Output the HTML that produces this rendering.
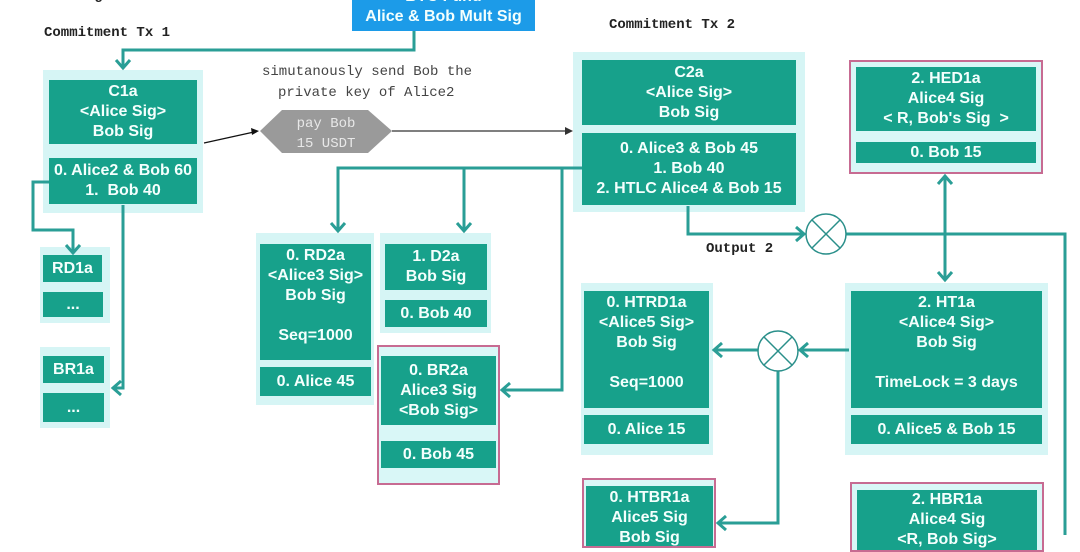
<!DOCTYPE html>
<html><head><meta charset="utf-8"><style>
html,body{margin:0;padding:0;background:#fff;}
body{width:1080px;height:535px;position:relative;overflow:hidden;font-family:"Liberation Sans",Arial,sans-serif;}
.o{position:absolute;background:#d6f5f5;}
.b{position:absolute;background:#17a18b;color:#f4fffd;font-weight:bold;font-size:16px;line-height:20px;text-align:center;display:flex;flex-direction:column;justify-content:center;}
.pk{position:absolute;border:2px solid #c76b92;background:#d9f7f7;box-sizing:border-box;}
.m{position:absolute;font-family:"Liberation Mono","DejaVu Sans Mono",monospace;font-size:14px;color:#222;white-space:nowrap;}
svg{position:absolute;left:0;top:0;}
</style></head><body>
<div class="m" style="left:44px;top:-12px;font-weight:bold;">Funding Transaction</div>
<div class="m" style="left:44px;top:25px;font-weight:bold;">Commitment Tx 1</div>
<div class="m" style="left:609px;top:17px;font-weight:bold;">Commitment Tx 2</div>
<div class="m" style="left:262px;top:64px;color:#444;">simutanously send Bob the</div>
<div class="m" style="left:278px;top:85px;color:#444;">private key of Alice2</div>
<div class="m" style="left:706px;top:241px;font-weight:bold;">Output 2</div>

<div class="b" style="left:352px;top:-12px;width:183px;height:43px;background:#1c9be8;justify-content:flex-end;padding-bottom:0;"><div>BTC Fund</div><div style="margin-bottom:4px">Alice &amp; Bob Mult Sig</div></div>

<!-- C1a -->
<div class="o" style="left:43px;top:70px;width:160px;height:143px;"></div>
<div class="b" style="left:49px;top:80px;width:148px;height:64px;">C1a<br>&lt;Alice Sig&gt;<br>Bob Sig</div>
<div class="b" style="left:49px;top:158px;width:148px;height:46px;">0. Alice2 &amp; Bob 60<br>1.&nbsp; Bob 40</div>

<!-- RD1a / BR1a -->
<div class="o" style="left:40px;top:247px;width:70px;height:76px;"></div>
<div class="b" style="left:43px;top:255px;width:59px;height:27px;">RD1a</div>
<div class="b" style="left:43px;top:292px;width:60px;height:25px;">...</div>
<div class="o" style="left:40px;top:347px;width:70px;height:81px;"></div>
<div class="b" style="left:43px;top:356px;width:61px;height:27px;">BR1a</div>
<div class="b" style="left:43px;top:393px;width:61px;height:29px;">...</div>

<!-- C2a -->
<div class="o" style="left:573px;top:52px;width:232px;height:160px;"></div>
<div class="b" style="left:582px;top:60px;width:214px;height:65px;">C2a<br>&lt;Alice Sig&gt;<br>Bob Sig</div>
<div class="b" style="left:582px;top:133px;width:214px;height:72px;">0. Alice3 &amp; Bob 45<br>1. Bob 40<br>2. HTLC Alice4 &amp; Bob 15</div>

<!-- HED1a -->
<div class="pk" style="left:849px;top:60px;width:194px;height:114px;"></div>
<div class="b" style="left:856px;top:67px;width:180px;height:64px;">2. HED1a<br>Alice4 Sig<br>&lt; R, Bob's Sig &nbsp;&gt;</div>
<div class="b" style="left:856px;top:142px;width:180px;height:21px;">0. Bob 15</div>

<!-- RD2a -->
<div class="o" style="left:256px;top:233px;width:118px;height:172px;"></div>
<div class="b" style="left:260px;top:244px;width:111px;height:116px;justify-content:flex-start;padding-top:2px;box-sizing:border-box;">0. RD2a<br>&lt;Alice3 Sig&gt;<br>Bob Sig<br><br>Seq=1000</div>
<div class="b" style="left:260px;top:367px;width:111px;height:29px;">0. Alice 45</div>

<!-- D2a -->
<div class="o" style="left:380px;top:233px;width:111px;height:100px;"></div>
<div class="b" style="left:385px;top:244px;width:102px;height:46px;">1. D2a<br>Bob Sig</div>
<div class="b" style="left:385px;top:300px;width:102px;height:27px;">0. Bob 40</div>

<!-- BR2a -->
<div class="pk" style="left:377px;top:345px;width:123px;height:140px;"></div>
<div class="b" style="left:381px;top:356px;width:115px;height:69px;">0. BR2a<br>Alice3 Sig<br>&lt;Bob Sig&gt;</div>
<div class="b" style="left:381px;top:441px;width:115px;height:27px;">0. Bob 45</div>

<!-- HTRD1a -->
<div class="o" style="left:581px;top:283px;width:132px;height:172px;"></div>
<div class="b" style="left:584px;top:291px;width:125px;height:117px;justify-content:flex-start;padding-top:2px;box-sizing:border-box;">0. HTRD1a<br>&lt;Alice5 Sig&gt;<br>Bob Sig<br><br>Seq=1000</div>
<div class="b" style="left:584px;top:415px;width:125px;height:29px;">0. Alice 15</div>

<!-- HT1a -->
<div class="o" style="left:845px;top:283px;width:203px;height:172px;"></div>
<div class="b" style="left:851px;top:291px;width:191px;height:117px;justify-content:flex-start;padding-top:2px;box-sizing:border-box;">2. HT1a<br>&lt;Alice4 Sig&gt;<br>Bob Sig<br><br>TimeLock = 3 days</div>
<div class="b" style="left:851px;top:415px;width:191px;height:29px;">0. Alice5 &amp; Bob 15</div>

<!-- HTBR1a -->
<div class="pk" style="left:582px;top:478px;width:134px;height:70px;"></div>
<div class="b" style="left:586px;top:486px;width:127px;height:60px;justify-content:flex-start;padding-top:2px;box-sizing:border-box;">0. HTBR1a<br>Alice5 Sig<br>Bob Sig</div>

<!-- HBR1a -->
<div class="pk" style="left:850px;top:482px;width:194px;height:70px;"></div>
<div class="b" style="left:857px;top:490px;width:180px;height:60px;justify-content:flex-start;padding-top:0;box-sizing:border-box;">2. HBR1a<br>Alice4 Sig<br>&lt;R, Bob Sig&gt;</div>

<svg width="1080" height="535" viewBox="0 0 1080 535">
<g fill="none" stroke="#2a9e96" stroke-width="3">
<polyline points="414,31 414,50 123,50 123,68"/>
<polyline points="116,60 123,68 130,60"/>
<polyline points="49,182 33,182 33,230 73,230 73,253"/>
<polyline points="66,245 73,253 80,245"/>
<polyline points="123,205 123,388 114,388"/>
<polyline points="121,381 113,388 121,395"/>
<polyline points="582,168 338,168 338,231"/>
<polyline points="331,223 338,231 345,223"/>
<polyline points="464,168 464,231"/>
<polyline points="457,223 464,231 471,223"/>
<polyline points="562,168 562,390 502,390"/>
<polyline points="510,383 502,390 510,397"/>
<polyline points="688,206 688,234 804,234"/>
<polyline points="796,227 804,234 796,241"/>
<polyline points="846,234 1065,234 1065,535"/>
<line x1="945" y1="176" x2="945" y2="280"/>
<polyline points="938,184 945,176 952,184"/>
<polyline points="938,272 945,280 952,272"/>
<line x1="849" y1="350" x2="800" y2="350"/>
<polyline points="808,343 800,350 808,357"/>
<line x1="758" y1="350" x2="714" y2="350"/>
<polyline points="722,343 714,350 722,357"/>
<polyline points="778,371 778,523 718,523"/>
<polyline points="726,516 718,523 726,530"/>
</g>
<g fill="none" stroke="#2a8f8a" stroke-width="1.5">
<circle cx="826" cy="234" r="20"/>
<line x1="812" y1="220" x2="840" y2="248"/><line x1="840" y1="220" x2="812" y2="248"/>
<circle cx="778" cy="351" r="20"/>
<line x1="764" y1="337" x2="792" y2="365"/><line x1="792" y1="337" x2="764" y2="365"/>
</g>
<line x1="204" y1="143" x2="254" y2="132" stroke="#111" stroke-width="1.2"/>
<polygon points="259,131 251,128 252,135" fill="#111"/>
<line x1="392" y1="131" x2="568" y2="131" stroke="#555" stroke-width="1.5"/>
<polygon points="573,131 565,127 565,135" fill="#333"/>
<polygon points="282,110 368,110 392,131 368,153 282,153 260,131" fill="#9a9a9a"/>
<text x="326" y="127" text-anchor="middle" font-family="Liberation Mono, monospace" font-size="14" fill="#e8e8e8">pay Bob</text>
<text x="326" y="147" text-anchor="middle" font-family="Liberation Mono, monospace" font-size="14" fill="#e8e8e8">15 USDT</text>
</svg>
</body></html>
